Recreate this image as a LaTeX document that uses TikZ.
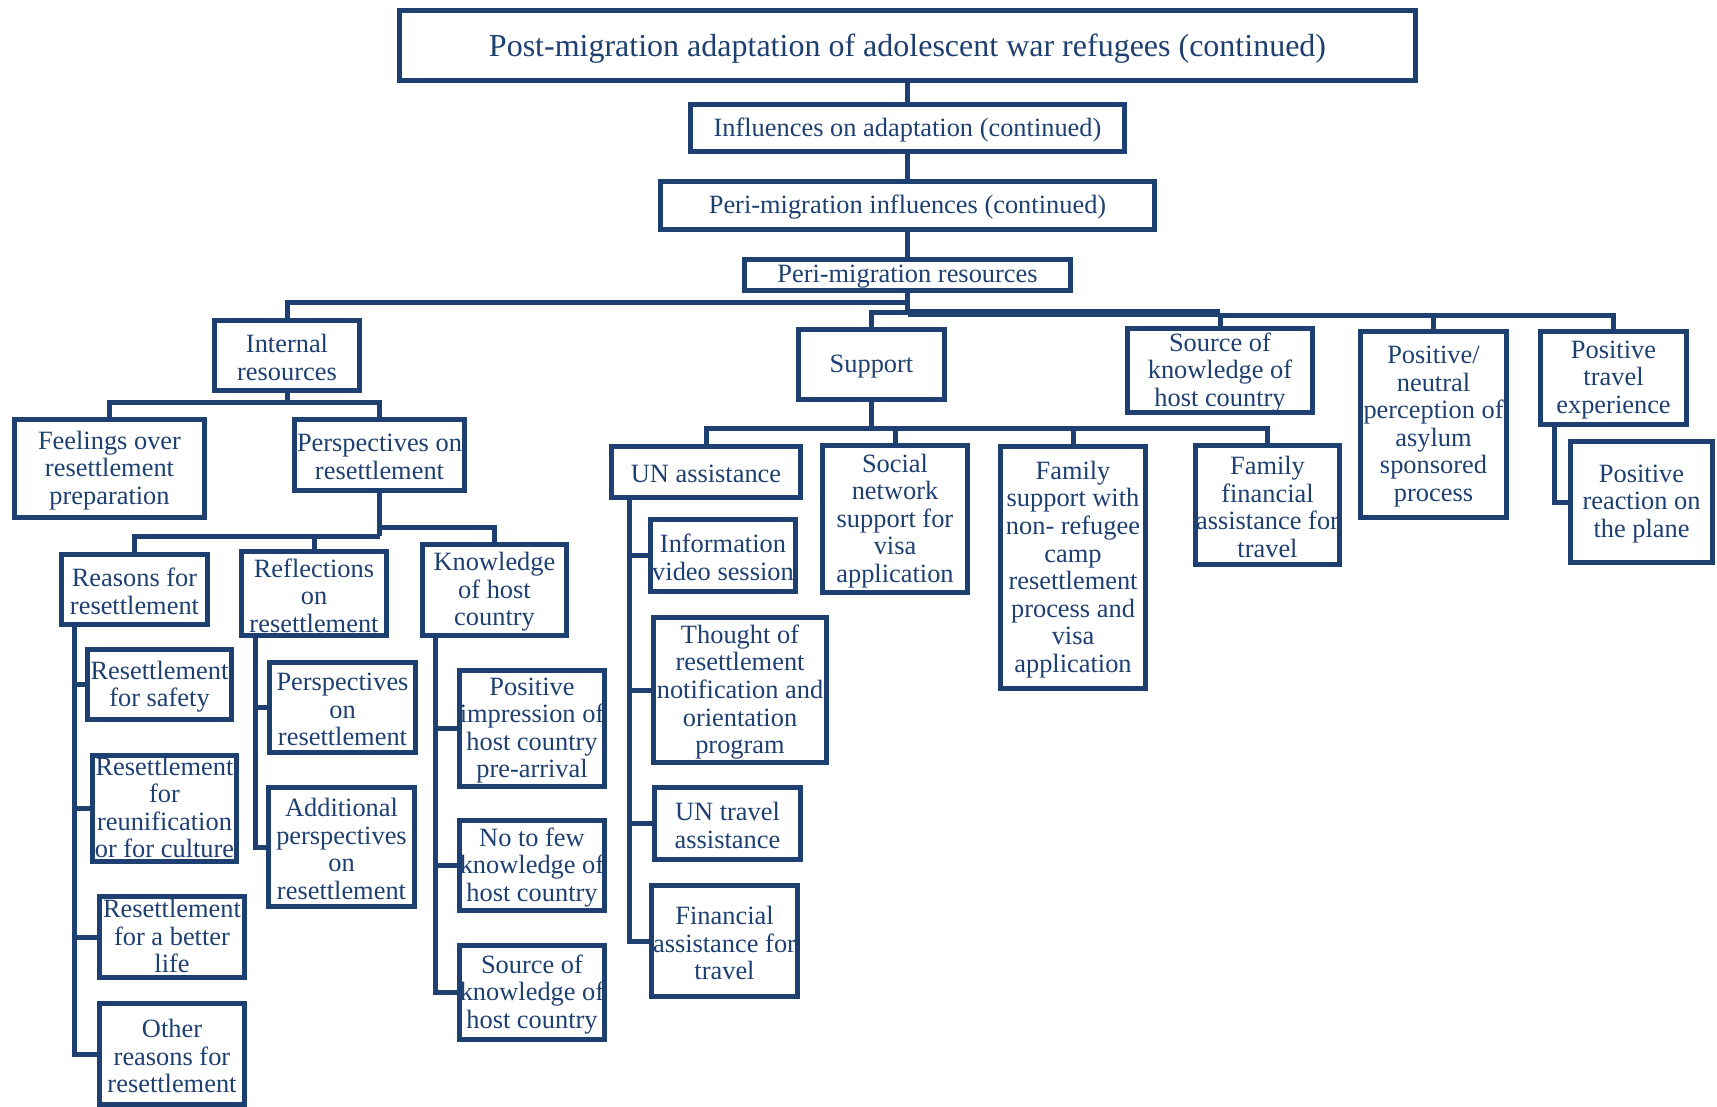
\documentclass[tikz,border=0pt]{standalone}
\usepackage{fontspec}
\setmainfont{Liberation Serif}
\definecolor{navy}{RGB}{30,64,113}

% A framed box given by its outer corners (x1,y1)-(x2,y2), in pixel units;
% the frame carries the name, the text sits at its centre, moved by the optional shift
\newcommand\boxnode[7][-1pt]{%
  \node[card, minimum width={(#5-#3-5)*0.5pt}, minimum height={(#6-#4-5)*0.5pt}]
    (#2) at ({(#3+#5)/2},{(#4+#6)/2}) {};
  \node[label text, yshift=#1] at (#2.center) {#7};}

\begin{document}
\begin{tikzpicture}[x=0.5pt,y=-0.5pt,
  card/.style={draw=navy, line width=2.5pt, fill=white, inner sep=0pt},
  label text/.style={text=navy, inner sep=0pt, align=center,
    font=\fontsize{13.2}{13.8}\selectfont},
  link/.style={draw=navy, line width=2.5pt},
  bar/.style={draw=navy, line width=3.8pt}]

\fill[white] (0,0) rectangle (1717,1107);
\clip (0,0) rectangle (1717,1107);

% ---------- boxes ----------
\boxnode[-1.6pt]{title}{397}{8}{1418}{83}{\fontsize{16}{18}\selectfont Post-migration adaptation of adolescent war refugees (continued)}
\boxnode{infl}{688}{102}{1127}{154}{Influences on adaptation (continued)}
\boxnode{peri}{658}{179}{1157}{232}{Peri-migration influences (continued)}
\boxnode{res}{742}{257}{1073}{293}{Peri-migration resources}

\boxnode{internal}{212}{318}{362}{393}{Internal\\resources}
\boxnode{support}{796}{327}{947}{402}{Support}
\boxnode{source}{1125}{326}{1315}{415}{Source of\\knowledge of\\host country}
\boxnode{posneu}{1358}{329}{1509}{520}{Positive/\\neutral\\perception of\\asylum\\sponsored\\process}
\boxnode{travel}{1538}{329}{1689}{427}{Positive\\travel\\experience}
\boxnode{reaction}{1568}{439}{1715}{565}{Positive\\reaction on\\the plane}

\boxnode{feel}{12}{417}{207}{520}{Feelings over\\resettlement\\preparation}
\boxnode{persp}{292}{417}{467}{493}{Perspectives on\\resettlement}

\boxnode{reasons}{59}{552}{210}{627}{Reasons for\\resettlement}
\boxnode{reflect}{239}{549}{389}{638}{Reflections\\on\\resettlement}
\boxnode{know}{420}{542}{569}{638}{Knowledge\\of host\\country}

\boxnode{safety}{85}{647}{234}{722}{Resettlement\\for safety}
\boxnode[0.5pt]{reunif}{90}{753}{239}{864}{Resettlement\\for\\reunification\\or for culture}
\boxnode[0.5pt]{better}{97}{894}{247}{980}{Resettlement\\for a better\\life}
\boxnode{other}{97}{1001}{247}{1107}{Other\\reasons for\\resettlement}

\boxnode{perspsub}{267}{660}{418}{755}{Perspectives\\on\\resettlement}
\boxnode{addit}{266}{785}{417}{909}{Additional\\perspectives\\on\\resettlement}

\boxnode{posimp}{457}{668}{607}{789}{Positive\\impression of\\host country\\pre-arrival}
\boxnode{nofew}{457}{818}{607}{913}{No to few\\knowledge of\\host country}
\boxnode{srcsub}{457}{943}{607}{1042}{Source of\\knowledge of\\host country}

\boxnode{un}{609}{444}{803}{500}{UN assistance}
\boxnode{social}{820}{443}{970}{595}{Social\\network\\support for\\visa\\application}
\boxnode{famsup}{998}{444}{1148}{691}{Family\\support with\\non- refugee\\camp\\resettlement\\process and\\visa\\application}
\boxnode{famfin}{1193}{443}{1342}{567}{Family\\financial\\assistance for\\travel}

\boxnode{info}{648}{517}{798}{594}{Information\\video session}
\boxnode{thought}{651}{615}{829}{765}{Thought of\\resettlement\\notification and\\orientation\\program}
\boxnode{untravel}{652}{785}{803}{862}{UN travel\\assistance}
\boxnode{finassist}{649}{883}{800}{999}{Financial\\assistance for\\travel}

% ---------- bus levels and bracket columns ----------
\coordinate (busA) at (0,302);
\coordinate (busB) at (0,312);
\coordinate (busC) at (0,313);
\coordinate (busD) at (0,315);
\coordinate (busE) at (0,428);
\coordinate (busF) at (0,402);
\coordinate (busG) at (0,536);
\coordinate (busH) at (0,527);
\coordinate (colR) at (74,0);
\coordinate (colF) at (255,0);
\coordinate (colK) at (435,0);
\coordinate (colU) at (629,0);
\coordinate (colT) at (1554,0);

% ---------- connectors ----------
\draw[link] (title.south) -- (infl.north);
\draw[link] (infl.south) -- (peri.north);
\draw[link] (peri.south) -- (res.north);
\draw[link] (res.south) -- (res.south |- busD);

\draw[link] (res.south |- busA) -| (internal.north);
\draw[link] (support.north) |- (res.south |- busB);
\draw[bar]  (res.south |- busC) -- (source.north |- busC);
\draw[link] (source.north |- busC) -- (source.north);
\draw[link] (source.north |- busD) -| (travel.north);
\draw[link] (posneu.north |- busD) -- (posneu.north);

\draw[link] (support.south) -- (support.south |- busE);
\draw[link] (un.north) |- (famfin.north |- busE) -- (famfin.north);
\draw[link] (social.north |- busE) -- (social.north);
\draw[link] (famsup.north |- busE) -- (famsup.north);

\draw[link] (internal.south) -- (internal.south |- busF);
\draw[link] (feel.north) |- (persp.north |- busF) -- (persp.north);

\draw[link] (persp.south) -- (persp.south |- busG);
\draw[link] (reasons.north) |- (persp.south |- busG);
\draw[link] (reflect.north |- busG) -- (reflect.north);
\draw[link] (persp.south |- busH) -| (know.north);

\draw[link] (reasons.south -| colR) |- (safety.west);
\draw[link] (reasons.south -| colR) |- (reunif.west);
\draw[link] (reasons.south -| colR) |- (better.west);
\draw[link] (reasons.south -| colR) |- (other.west);

\draw[link] (reflect.south -| colF) |- (perspsub.west);
\draw[link] (reflect.south -| colF) |- (addit.west);

\draw[link] (know.south -| colK) |- (posimp.west);
\draw[link] (know.south -| colK) |- (nofew.west);
\draw[link] (know.south -| colK) |- (srcsub.west);

\draw[link] (un.south -| colU) |- (info.west);
\draw[link] (un.south -| colU) |- (thought.west);
\draw[link] (un.south -| colU) |- (untravel.west);
\draw[link] (un.south -| colU) |- (finassist.west);

\draw[link] (travel.south -| colT) |- (reaction.west);
\end{tikzpicture}
\end{document}
